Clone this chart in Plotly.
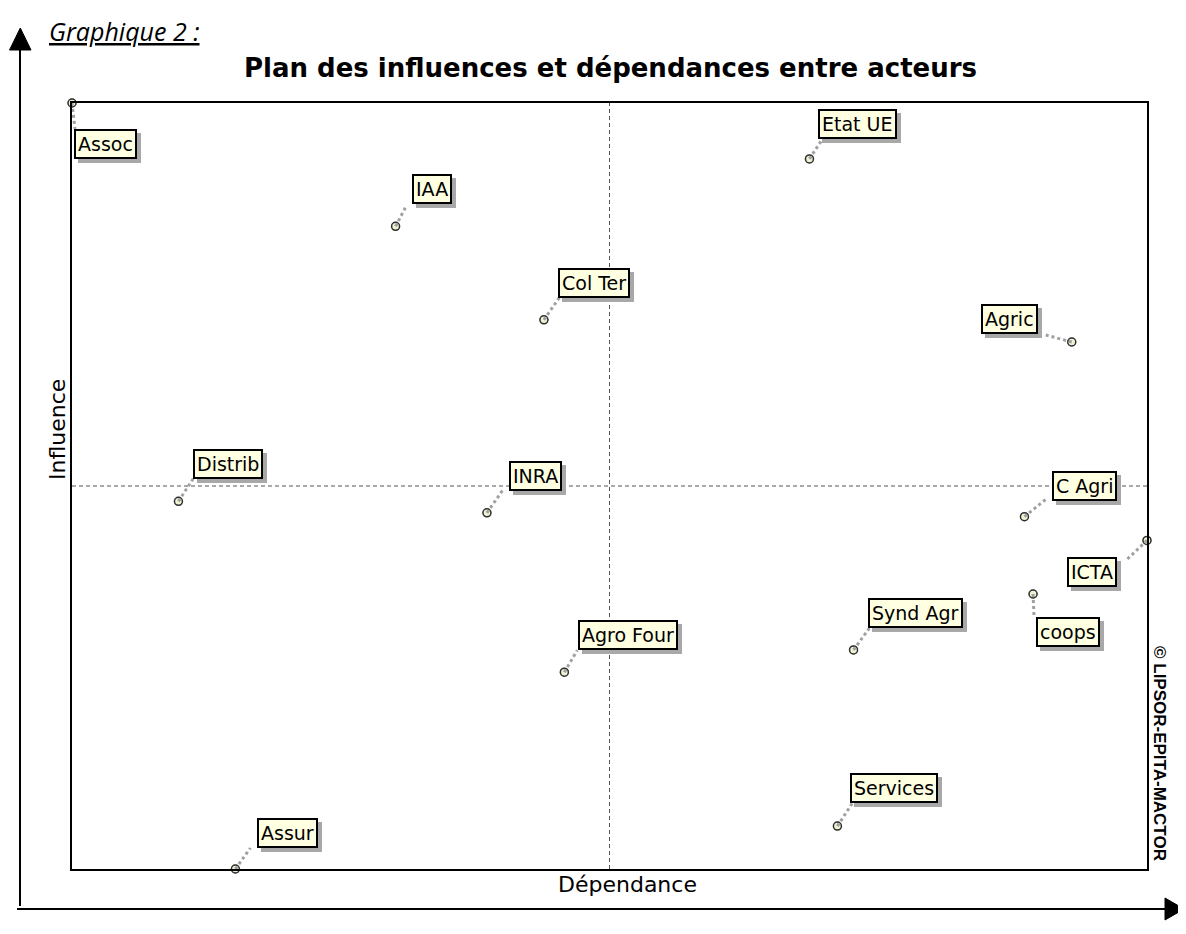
import plotly.graph_objects as go

# ---- data (axis scale 0-100, centre lines at 50) ----
actors = ["Assoc", "IAA", "Etat UE", "Col Ter", "Agric", "Distrib", "INRA",
          "C Agri", "ICTA", "coops", "Synd Agr", "Agro Four", "Services", "Assur"]
dependance = [0.0, 30.1, 68.6, 43.9, 93.0, 9.9, 38.6, 88.6, 100.0, 89.4, 72.7, 45.8, 71.2, 15.2]
influence = [100.0, 83.9, 92.7, 71.7, 68.8, 48.0, 46.5, 46.0, 42.9, 35.9, 28.6, 25.7, 5.6, 0.0]

# label placement (pixel offsets from the point; +y is up)
label_dx = [33, 36, 48, 50, -62, 50, 49, 60, -55, 35, 62, 64, 57, 52]
label_dy = [-41, 37, 35, 37, 23, 37, 37, 31, -32, -38, 37, 37, 38, 36]
lead_dx = [3, 11, 13, 16, -26, 15, 16, 21, -21, 1, 16, 13, 15, 15]
lead_dy = [-26, 21, 20, 23, 7, 23, 23, 17, -20, -23, 22, 22, 23, 21]

PAGE_W, PAGE_H = 1186, 934
O = 8  # page body margin
W, H = PAGE_W - 2 * O, PAGE_H - 2 * O
L, R, T, B = 72, 1147, 103, 869  # plot frame in page pixels


def px(x):
    return (x - L) / (R - L)


def py(y):
    return (B - y) / (B - T)


fig = go.Figure()

shapes = []
# centre dashed lines
shapes.append(dict(type="line", xref="x", yref="paper", x0=50, x1=50, y0=0, y1=1,
                   line=dict(color="#555555", width=1, dash="4px,3px"), layer="below"))
shapes.append(dict(type="line", xref="paper", yref="y", x0=0, x1=1, y0=50, y1=50,
                   line=dict(color="#555555", width=1, dash="4px,3px"), layer="below"))

# leader lines
for x, y, dx, dy in zip(dependance, influence, lead_dx, lead_dy):
    shapes.append(dict(type="line", xref="x", yref="y",
                       xsizemode="pixel", ysizemode="pixel",
                       xanchor=x, yanchor=y, x0=0, y0=0, x1=dx, y1=dy,
                       line=dict(color="#a0a0a0", width=3, dash="dot")))

# outer axis arrows
shapes.append(dict(type="line", xref="paper", yref="paper",
                   x0=px(20), x1=px(20), y0=py(906), y1=py(48),
                   line=dict(color="black", width=2)))
shapes.append(dict(type="path", xref="paper", yref="paper",
                   path=f"M {px(9.5)},{py(50)} L {px(31)},{py(50)} L {px(20.3)},{py(28)} Z",
                   fillcolor="black", line=dict(color="black", width=1)))
shapes.append(dict(type="line", xref="paper", yref="paper",
                   x0=px(17), x1=px(1170), y0=py(909), y1=py(909),
                   line=dict(color="black", width=2)))
shapes.append(dict(type="path", xref="paper", yref="paper",
                   path=f"M {px(1165)},{py(898)} L {px(1165)},{py(920)} L {px(1184)},{py(909)} Z",
                   fillcolor="black", line=dict(color="black", width=1)))

# point shadows and points
fig.add_trace(go.Scatter(x=dependance, y=influence, mode="markers",
                         marker=dict(size=9, color="rgba(90,90,90,0.55)"),
                         cliponaxis=False, hoverinfo="skip", showlegend=False))
fig.add_trace(go.Scatter(x=dependance, y=influence, mode="markers",
                         marker=dict(size=8, color="#f2f2d4",
                                     line=dict(color="#303030", width=1.5)),
                         text=actors, hoverinfo="text",
                         cliponaxis=False, showlegend=False))

annotations = []
LAB_SIZE = 19
for x, y, t, dx, dy in zip(dependance, influence, actors, label_dx, label_dy):
    annotations.append(dict(x=x, y=y, xref="x", yref="y", text=t, showarrow=False,
                            xshift=dx + 4, yshift=dy - 4,
                            font=dict(family="DejaVu Sans", size=LAB_SIZE, color="#a8a8a8"),
                            bgcolor="#a8a8a8", bordercolor="#a8a8a8",
                            borderwidth=2, borderpad=2))
for x, y, t, dx, dy in zip(dependance, influence, actors, label_dx, label_dy):
    annotations.append(dict(x=x, y=y, xref="x", yref="y", text=t, showarrow=False,
                            xshift=dx, yshift=dy,
                            font=dict(family="DejaVu Sans", size=LAB_SIZE, color="black"),
                            bgcolor="#ffffe1", bordercolor="black",
                            borderwidth=2, borderpad=2))

annotations += [
    dict(text="Plan des influences et dépendances entre acteurs", xref="paper", yref="paper",
         x=px(610), y=py(68), xanchor="center", yanchor="middle", showarrow=False,
         font=dict(family="DejaVu Sans", size=26, color="black", weight="bold")),
    dict(text="<i><u>Graphique 2 :</u></i>", xref="paper", yref="paper",
         x=px(47), y=py(31), xanchor="left", yanchor="middle", showarrow=False,
         font=dict(family="Open Sans", size=25, color="black")),
    dict(text="Influence", xref="paper", yref="paper", x=px(57), y=py(430),
         xanchor="center", yanchor="middle", textangle=-90, showarrow=False,
         font=dict(family="DejaVu Sans", size=22, color="black")),
    dict(text="Dépendance", xref="paper", yref="paper", x=px(627), y=py(884),
         xanchor="center", yanchor="middle", showarrow=False,
         font=dict(family="DejaVu Sans", size=22, color="black")),
    dict(text="© LIPSOR-EPITA-MACTOR", xref="paper", yref="paper", x=px(1160), y=py(753),
         xanchor="center", yanchor="middle", textangle=90, showarrow=False,
         font=dict(family="Liberation Sans", size=17, color="black", weight="bold")),
]

fig.update_layout(
    width=W, height=H,
    margin=dict(l=L - O, r=W - (R - O), t=T - O, b=H - (B - O), pad=0),
    paper_bgcolor="white", plot_bgcolor="white",
    xaxis=dict(range=[0, 100], showgrid=False, zeroline=False, showticklabels=False,
               ticks="", showline=True, mirror=True, linecolor="black", linewidth=2),
    yaxis=dict(range=[0, 100], showgrid=False, zeroline=False, showticklabels=False,
               ticks="", showline=True, mirror=True, linecolor="black", linewidth=2),
    shapes=shapes,
    annotations=annotations,
)

fig.write_html("out.html")
